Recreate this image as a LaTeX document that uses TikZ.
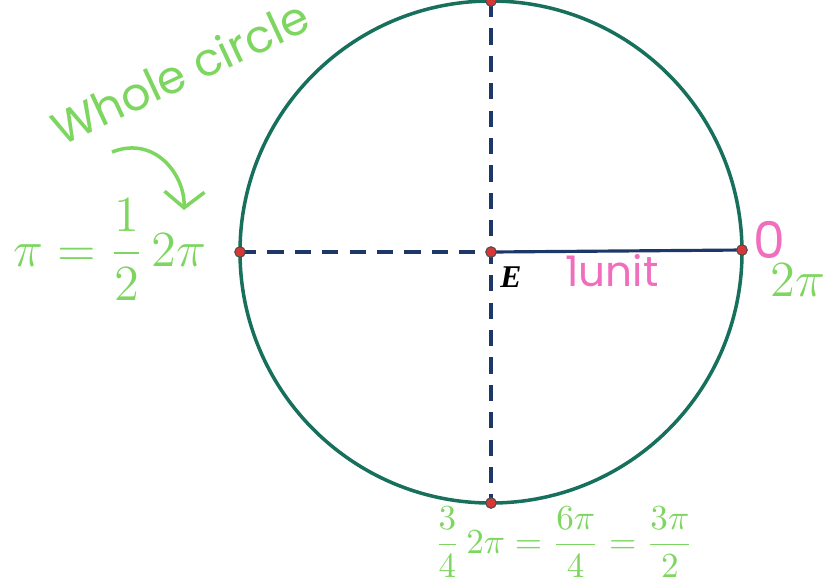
\documentclass[tikz,border=0pt]{standalone}
\usepackage{amsmath}
\usepackage{fontspec}
\setmainfont{Poppins}
\newfontfamily\pointfont{Liberation Serif}
\usetikzlibrary{arrows.meta}
\definecolor{ringgreen}{RGB}{22,112,92}
\definecolor{dashblue}{RGB}{30,55,105}
\definecolor{handgreen}{RGB}{125,214,95}
\definecolor{handpink}{RGB}{240,110,190}
\definecolor{dotred}{RGB}{215,55,55}

\begin{document}
\begin{tikzpicture}[
    ring/.style={draw=ringgreen, line width=1pt},
    axisline/.style={draw=dashblue, line width=0.9pt, dash pattern=on 4.6pt off 3.2pt},
    unitline/.style={draw=dashblue, line width=0.9pt},
    dot/.style={circle, fill=dotred, draw=black!70, line width=0.3pt, inner sep=0pt, minimum size=3pt},
    hand/.style={text=handgreen, inner sep=1pt},
    pink/.style={text=handpink, inner sep=1pt},
    pointer/.style={draw=handgreen, line width=1pt, -{Straight Barb[length=1.6mm, width=4mm]}}
]
\useasboundingbox (0,0) rectangle (8.29,-5.82);
% centre and the four points on the ring
\coordinate (E) at (4.91,-2.52);
\coordinate (top) at (4.91,-0.01);
\coordinate (bottom) at (4.91,-5.03);
\coordinate (left) at (2.40,-2.52);
\coordinate (right) at (7.42,-2.50);

\draw[ring] (E) circle[radius=2.51];
\draw[axisline] (top) -- (bottom);
\draw[axisline] (left) -- (E);
\draw[unitline] (E) -- (right);

\foreach \p in {E,top,bottom,left,right}
  \node[dot] at (\p) {};

% labels
\node[font=\pointfont\small\bfseries\itshape] (Elabel) at (5.11,-2.77) {E};
\node[pink, font=\large] (unit) at (6.12,-2.71) {1unit};
\node[pink, font=\Large] (zero) at (7.69,-2.40) {0};
\node[hand, font=\Large] (twopi) at (7.98,-2.80) {$2\pi$};

\node[hand, font=\fontsize{13}{15}\selectfont, rotate=25] (whole) at (1.80,-0.72) {Whole circle};
\node[hand, font=\Large] (half) at (1.10,-2.50) {$\pi=\dfrac{1}{2}\,2\pi$};
\node[hand, font=\normalsize] (threequarter) at (5.64,-5.42) {$\dfrac{3}{4}\,2\pi=\dfrac{6\pi}{4}=\dfrac{3\pi}{2}$};

\coordinate (arrowstart) at (1.12,-1.52);
\coordinate (arrowtip) at (1.84,-2.10);
\draw[pointer] (arrowstart) .. controls (1.55,-1.35) and (1.85,-1.75) .. (arrowtip);
\end{tikzpicture}
\end{document}
